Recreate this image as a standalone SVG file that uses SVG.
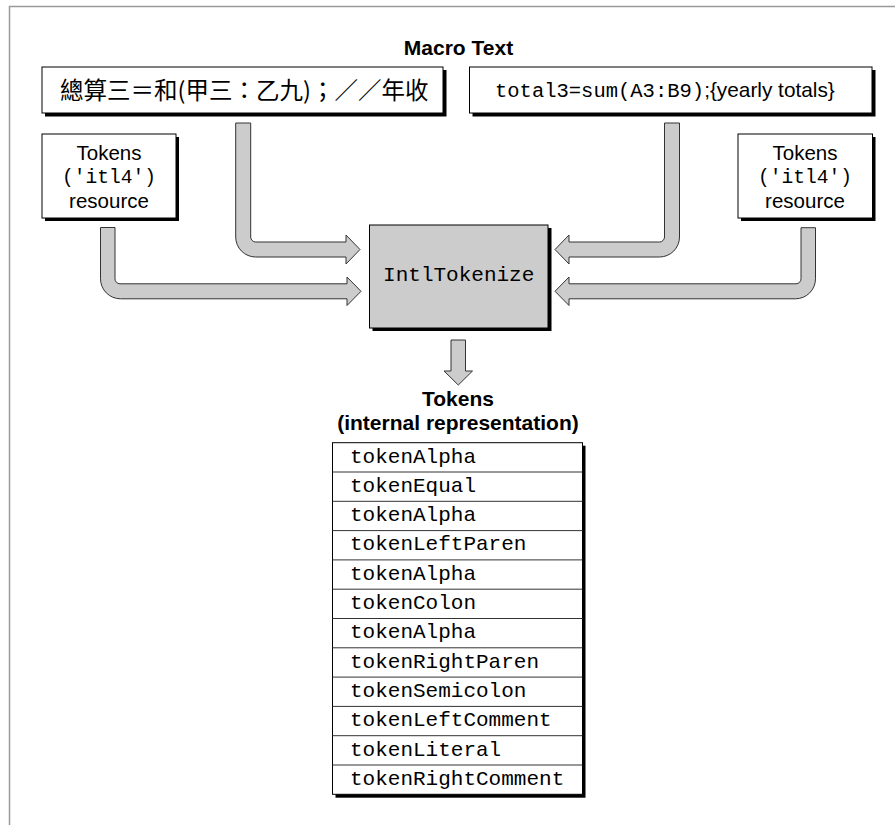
<svg xmlns="http://www.w3.org/2000/svg" width="895" height="825" viewBox="0 0 895 825">
<style>
.frame{fill:none;stroke:#9a9a9a;stroke-width:1.5}
.box{fill:#fff;stroke:#000;stroke-width:1}
.shadow{fill:#000}
.gbox{fill:#cccccc;stroke:#000;stroke-width:1}
.arrow{fill:#cccccc;stroke:#333;stroke-width:1;stroke-linejoin:round}
.sans{font-family:"Liberation Sans",Arial,sans-serif;font-size:20.5px;fill:#000}
.bold{font-family:"Liberation Sans",Arial,sans-serif;font-size:21px;font-weight:bold;fill:#000}
.mono{font-family:"Liberation Mono","Courier New",monospace;font-size:21px;fill:#000}
.cjk{font-family:"Noto Sans CJK TC","Noto Sans CJK SC",sans-serif;font-size:23.5px;fill:#000}
.sep{stroke:#333;stroke-width:1}
</style>
<path class="frame" d="M9.5 825 L9.5 6.5 L895 6.5"/>
<text class="bold" x="458.5" y="55" text-anchor="middle">Macro Text</text>

<g id="cjk-text">
<rect class="shadow" x="45" y="70" width="401.5" height="46.5"/>
<rect class="box" x="42" y="67" width="401" height="46"/>
<text class="cjk" x="60" y="99">總算三＝和(甲三：乙九)；／／年收</text>
</g>

<g id="roman-text">
<rect class="shadow" x="472.5" y="70" width="403" height="46.5"/>
<rect class="box" x="469.5" y="67" width="402.5" height="46"/>
<text x="495" y="97"><tspan class="mono" style="font-size:20.5px">total3=sum(A3:B9)</tspan><tspan class="sans" style="font-size:20.8px">;{yearly totals}</tspan></text>
</g>

<g id="tokens-left">
<rect class="shadow" x="45" y="137" width="134" height="84"/>
<rect class="box" x="42" y="134" width="134" height="84"/>
<text class="sans" x="109" y="160" text-anchor="middle">Tokens</text>
<text class="mono" style="font-size:19.6px" x="109" y="183" text-anchor="middle">('itl4')</text>
<text class="sans" x="109" y="208" text-anchor="middle">resource</text>
</g>

<g id="tokens-right">
<rect class="shadow" x="741" y="137" width="134.5" height="84"/>
<rect class="box" x="738" y="134" width="134.5" height="84"/>
<text class="sans" x="805" y="160" text-anchor="middle">Tokens</text>
<text class="mono" style="font-size:19.6px" x="805" y="183" text-anchor="middle">('itl4')</text>
<text class="sans" x="805" y="208" text-anchor="middle">resource</text>
</g>

<g id="intltokenize">
<rect class="shadow" x="372.5" y="228" width="179" height="103"/>
<rect class="gbox" x="369.5" y="225" width="178.5" height="103"/>
<text class="mono" x="458.7" y="281" text-anchor="middle">IntlTokenize</text>
</g>

<g id="connectors">
<path class="arrow" d="M235.7 123 L250.7 123 L250.7 237 A5 5 0 0 0 255.7 242 L346 242 L346 235 L360 249.5 L346 264 L346 257 L255.7 257 A20 20 0 0 1 235.7 237 Z"/>
<path class="arrow" d="M100.5 227.5 L115 227.5 L115 278.8 A5 5 0 0 0 120 283.8 L347 283.8 L347 277 L361 291.3 L347 305.5 L347 298.8 L120.5 298.8 A20 20 0 0 1 100.5 278.8 Z"/>
<path class="arrow" d="M664.5 123 L679.5 123 L679.5 237 A20 20 0 0 1 659.5 257 L569 257 L569 264 L555 249.5 L569 235 L569 242 L659.5 242 A5 5 0 0 0 664.5 237 Z"/>
<path class="arrow" d="M801 227.7 L815.5 227.7 L815.5 278.8 A20 20 0 0 1 795.5 298.8 L569 298.8 L569 305.5 L555 291.3 L569 277 L569 283.8 L796 283.8 A5 5 0 0 0 801 278.8 Z"/>
<path class="arrow" d="M451 340 L465.5 340 L465.5 371 L472.5 371 L458.3 385 L444 371 L451 371 Z"/>
</g>

<g id="tokens-internal">
<text class="bold" x="458" y="406" text-anchor="middle">Tokens</text>
<text class="bold" x="458" y="430" text-anchor="middle">(internal representation)</text>
<rect class="shadow" x="335.5" y="445.7" width="250" height="352"/>
<rect class="box" x="332.5" y="442.7" width="250" height="351.6"/>
<g class="sep">
<line x1="332.5" y1="472" x2="582.5" y2="472"/>
<line x1="332.5" y1="501.3" x2="582.5" y2="501.3"/>
<line x1="332.5" y1="530.6" x2="582.5" y2="530.6"/>
<line x1="332.5" y1="559.9" x2="582.5" y2="559.9"/>
<line x1="332.5" y1="589.2" x2="582.5" y2="589.2"/>
<line x1="332.5" y1="618.5" x2="582.5" y2="618.5"/>
<line x1="332.5" y1="647.8" x2="582.5" y2="647.8"/>
<line x1="332.5" y1="677.1" x2="582.5" y2="677.1"/>
<line x1="332.5" y1="706.4" x2="582.5" y2="706.4"/>
<line x1="332.5" y1="735.7" x2="582.5" y2="735.7"/>
<line x1="332.5" y1="765" x2="582.5" y2="765"/>
</g>
<text class="mono" x="350" y="462.5">tokenAlpha</text>
<text class="mono" x="350" y="491.8">tokenEqual</text>
<text class="mono" x="350" y="521.1">tokenAlpha</text>
<text class="mono" x="350" y="550.4">tokenLeftParen</text>
<text class="mono" x="350" y="579.7">tokenAlpha</text>
<text class="mono" x="350" y="609">tokenColon</text>
<text class="mono" x="350" y="638.3">tokenAlpha</text>
<text class="mono" x="350" y="667.6">tokenRightParen</text>
<text class="mono" x="350" y="696.9">tokenSemicolon</text>
<text class="mono" x="350" y="726.2">tokenLeftComment</text>
<text class="mono" x="350" y="755.5">tokenLiteral</text>
<text class="mono" x="350" y="784.8">tokenRightComment</text>
</g>
</svg>
